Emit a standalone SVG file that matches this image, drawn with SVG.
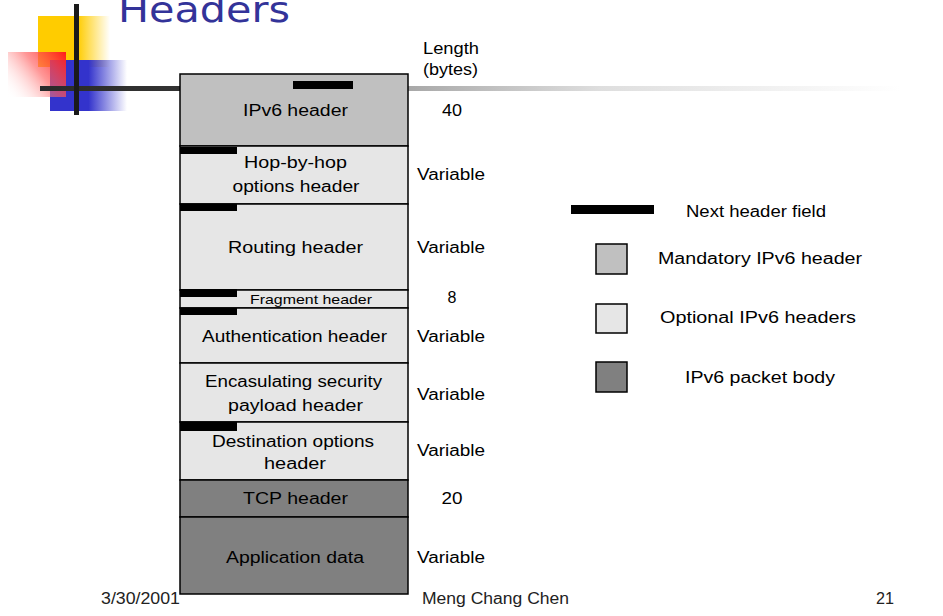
<svg xmlns="http://www.w3.org/2000/svg" width="943" height="616" viewBox="0 0 943 616">
  <defs>
    <linearGradient id="gYellow" x1="38" y1="0" x2="110" y2="0" gradientUnits="userSpaceOnUse">
      <stop offset="0" stop-color="#ffcc00"/>
      <stop offset="0.55" stop-color="#ffcc00"/>
      <stop offset="1" stop-color="#ffcc00" stop-opacity="0"/>
    </linearGradient>
    <linearGradient id="gBlue" x1="50" y1="0" x2="127" y2="0" gradientUnits="userSpaceOnUse">
      <stop offset="0" stop-color="#3333cc"/>
      <stop offset="0.5" stop-color="#3333cc"/>
      <stop offset="1" stop-color="#3333cc" stop-opacity="0"/>
    </linearGradient>
    <linearGradient id="gRed" x1="66" y1="52" x2="8" y2="97" gradientUnits="userSpaceOnUse">
      <stop offset="0" stop-color="#ff1a1a"/>
      <stop offset="0.45" stop-color="#ff6060" stop-opacity="0.65"/>
      <stop offset="1" stop-color="#ffffff" stop-opacity="0"/>
    </linearGradient>
    <linearGradient id="gRule" x1="40" y1="0" x2="900" y2="0" gradientUnits="userSpaceOnUse">
      <stop offset="0" stop-color="#2a2a2a"/>
      <stop offset="0.163" stop-color="#333333"/>
      <stop offset="0.428" stop-color="#a8a8a8"/>
      <stop offset="0.65" stop-color="#dedede"/>
      <stop offset="1" stop-color="#ffffff"/>
    </linearGradient>
    <style>
      text { font-family: "Liberation Sans", Arial, sans-serif; font-size: 16px; fill: #000; }
      .c { text-anchor: middle; }
      .small { font-size: 13px; }
      .foot { font-size: 16px; fill: #222; }
      .title { font-family: "DejaVu Sans", sans-serif; font-size: 36px; fill: #333399; }
      .row { stroke: #000; stroke-width: 1.5; }
      .mand { fill: #c0c0c0; }
      .opt { fill: #e6e6e6; }
      .body { fill: #808080; }
      .bar { fill: #000; }
    </style>
  </defs>

  <!-- slide decoration -->
  <g id="decor">
    <rect x="38" y="16" width="72" height="51" fill="url(#gYellow)"/>
    <rect x="50" y="60" width="77" height="51" fill="url(#gBlue)"/>
    <rect x="8" y="52" width="58" height="45" fill="url(#gRed)"/>
    <rect x="40" y="86" width="860" height="5" fill="url(#gRule)"/>
    <rect x="74" y="4" width="5" height="111" fill="#1a1a1a"/>
  </g>

  <text class="title" x="118" y="22" textLength="172" lengthAdjust="spacingAndGlyphs">Headers</text>

  <!-- header stack -->
  <g id="ipv6-header">
    <rect class="row mand" x="180" y="74" width="228" height="72"/>
    <rect class="bar" x="293" y="81" width="60" height="8"/>
    <text class="c" x="295.5" y="116" textLength="105" lengthAdjust="spacingAndGlyphs">IPv6 header</text>
  </g>
  <g id="hop-by-hop">
    <rect class="row opt" x="180" y="146" width="228" height="58"/>
    <rect class="bar" x="180" y="147" width="57" height="7"/>
    <text class="c" x="295.5" y="168" textLength="103" lengthAdjust="spacingAndGlyphs">Hop-by-hop</text>
    <text class="c" x="296" y="192" textLength="127" lengthAdjust="spacingAndGlyphs">options header</text>
  </g>
  <g id="routing">
    <rect class="row opt" x="180" y="204" width="228" height="86"/>
    <rect class="bar" x="180" y="204" width="57" height="7"/>
    <text class="c" x="295.5" y="253" textLength="135" lengthAdjust="spacingAndGlyphs">Routing header</text>
  </g>
  <g id="fragment">
    <rect class="row opt" x="180" y="290" width="228" height="18"/>
    <rect class="bar" x="180" y="289" width="57" height="8"/>
    <text class="c small" x="311" y="304" textLength="122" lengthAdjust="spacingAndGlyphs">Fragment header</text>
  </g>
  <g id="authentication">
    <rect class="row opt" x="180" y="308" width="228" height="55"/>
    <rect class="bar" x="180" y="308" width="57" height="7"/>
    <text class="c" x="294.5" y="342" textLength="185" lengthAdjust="spacingAndGlyphs">Authentication header</text>
  </g>
  <g id="esp">
    <rect class="row opt" x="180" y="363" width="228" height="59"/>
    <text class="c" x="293.5" y="387" textLength="177" lengthAdjust="spacingAndGlyphs">Encasulating security</text>
    <text class="c" x="295.5" y="411" textLength="135" lengthAdjust="spacingAndGlyphs">payload header</text>
  </g>
  <g id="destination">
    <rect class="row opt" x="180" y="422" width="228" height="58"/>
    <rect class="bar" x="180" y="422" width="57" height="9"/>
    <text class="c" x="293" y="447" textLength="162" lengthAdjust="spacingAndGlyphs">Destination options</text>
    <text class="c" x="295" y="469" textLength="62" lengthAdjust="spacingAndGlyphs">header</text>
  </g>
  <g id="tcp">
    <rect class="row body" x="180" y="480" width="228" height="37"/>
    <text class="c" x="295.5" y="504" textLength="105" lengthAdjust="spacingAndGlyphs">TCP header</text>
  </g>
  <g id="application">
    <rect class="row body" x="180" y="517" width="228" height="77"/>
    <text class="c" x="295" y="563" textLength="138" lengthAdjust="spacingAndGlyphs">Application data</text>
  </g>

  <!-- length column -->
  <g id="lengths">
    <text x="423" y="54" textLength="56" lengthAdjust="spacingAndGlyphs">Length</text>
    <text x="423" y="75" textLength="55" lengthAdjust="spacingAndGlyphs">(bytes)</text>
    <text class="c" x="452" y="116" textLength="20" lengthAdjust="spacingAndGlyphs">40</text>
    <text class="c" x="451" y="180" textLength="68" lengthAdjust="spacingAndGlyphs">Variable</text>
    <text class="c" x="451" y="253" textLength="68" lengthAdjust="spacingAndGlyphs">Variable</text>
    <text class="c" x="452" y="303">8</text>
    <text class="c" x="451" y="342" textLength="68" lengthAdjust="spacingAndGlyphs">Variable</text>
    <text class="c" x="451" y="400" textLength="68" lengthAdjust="spacingAndGlyphs">Variable</text>
    <text class="c" x="451" y="456" textLength="68" lengthAdjust="spacingAndGlyphs">Variable</text>
    <text class="c" x="452" y="504" textLength="21" lengthAdjust="spacingAndGlyphs">20</text>
    <text class="c" x="451" y="563" textLength="68" lengthAdjust="spacingAndGlyphs">Variable</text>
  </g>

  <!-- legend -->
  <g id="legend">
    <rect class="bar" x="571" y="205" width="83" height="9"/>
    <text x="686" y="217" textLength="140" lengthAdjust="spacingAndGlyphs">Next header field</text>
    <rect class="row mand" x="596" y="244" width="31" height="30"/>
    <text x="658" y="264" textLength="204" lengthAdjust="spacingAndGlyphs">Mandatory IPv6 header</text>
    <rect class="row opt" x="596" y="304" width="31" height="29"/>
    <text x="660" y="323" textLength="196" lengthAdjust="spacingAndGlyphs">Optional IPv6 headers</text>
    <rect class="row body" x="596" y="362" width="31" height="30"/>
    <text x="685" y="383" textLength="150" lengthAdjust="spacingAndGlyphs">IPv6 packet body</text>
  </g>

  <!-- footer -->
  <g id="footer">
    <text class="foot" x="101" y="604" textLength="79" lengthAdjust="spacingAndGlyphs">3/30/2001</text>
    <text class="foot" x="422" y="604" textLength="147" lengthAdjust="spacingAndGlyphs">Meng Chang Chen</text>
    <text class="foot" x="876" y="604" textLength="18" lengthAdjust="spacingAndGlyphs">21</text>
  </g>
</svg>
